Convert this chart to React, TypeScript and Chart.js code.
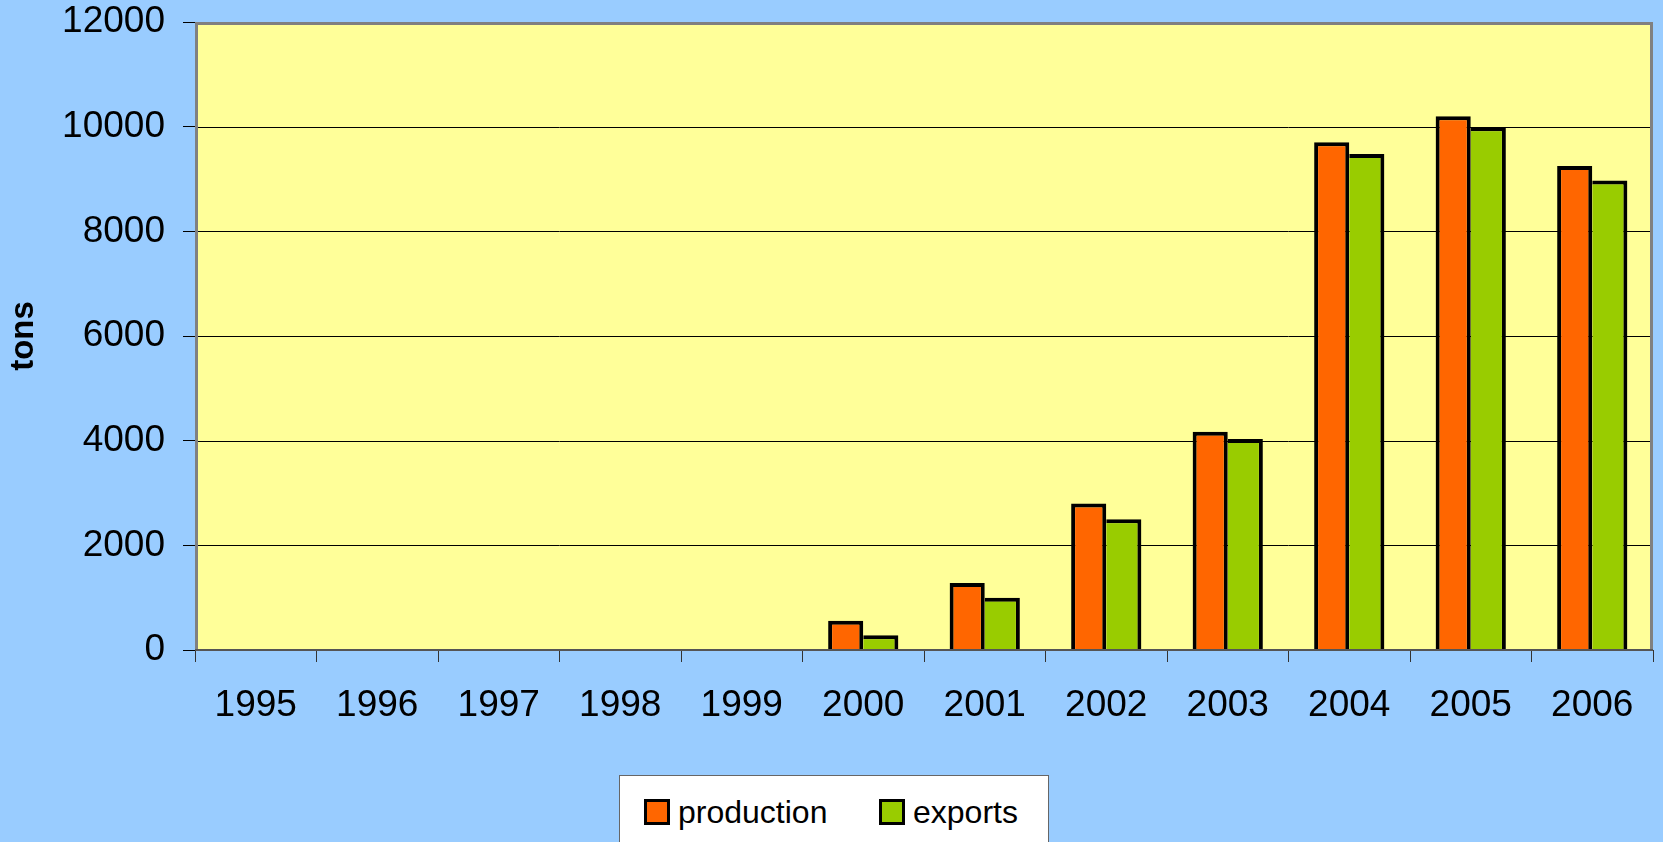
import React, { useEffect, useRef } from "react";
import { Chart, registerables } from "chart.js";

Chart.register(...registerables);

const years = ["1995", "1996", "1997", "1998", "1999", "2000", "2001", "2002", "2003", "2004", "2005", "2006"];
const production = [0, 0, 0, 0, 0, 560, 1280, 2800, 4170, 9700, 10200, 9250];
const exportsData = [0, 0, 0, 0, 0, 280, 1000, 2500, 4030, 9480, 9990, 8970];
const yAxisTitle = "tons";
const seriesNames = ["production", "exports"];
const seriesColors = ["#FF6600", "#99CC00"];

const FONT = "'Liberation Sans', Arial, sans-serif";

const plotFrame = {
  id: "plotFrame",
  beforeDatasetsDraw(chart: any) {
    const { ctx, chartArea } = chart;
    ctx.save();
    ctx.fillStyle = "#FFFF99";
    ctx.fillRect(chartArea.left, chartArea.top, chartArea.right - chartArea.left, chartArea.bottom - chartArea.top);
    const y = chart.scales.y;
    ctx.strokeStyle = "#000000";
    ctx.lineWidth = 1;
    y.ticks.forEach((t: any) => {
      const py = Math.round(y.getPixelForValue(t.value)) + 0.5;
      ctx.beginPath();
      ctx.moveTo(chartArea.left, py);
      ctx.lineTo(chartArea.right, py);
      ctx.stroke();
    });
    ctx.restore();
  },
  afterDatasetsDraw(chart: any) {
    const { ctx, chartArea } = chart;
    ctx.save();
    ctx.strokeStyle = "#808080";
    ctx.lineWidth = 3;
    ctx.beginPath();
    ctx.moveTo(chartArea.left + 1.5, chartArea.bottom);
    ctx.lineTo(chartArea.left + 1.5, chartArea.top + 1.5);
    ctx.lineTo(chartArea.right - 1.5, chartArea.top + 1.5);
    ctx.lineTo(chartArea.right - 1.5, chartArea.bottom);
    ctx.stroke();
    ctx.strokeStyle = "#555555";
    ctx.lineWidth = 2;
    ctx.beginPath();
    ctx.moveTo(chartArea.left, chartArea.bottom);
    ctx.lineTo(chartArea.right, chartArea.bottom);
    ctx.stroke();
    ctx.restore();
  },
};

export default function App() {
  const canvasRef = useRef<HTMLCanvasElement>(null);

  useEffect(() => {
    if (!canvasRef.current) return;
    const chart = new Chart(canvasRef.current, {
      type: "bar",
      data: {
        labels: years,
        datasets: [
          {
            label: seriesNames[0],
            data: production,
            backgroundColor: seriesColors[0],
            borderColor: "#000000",
            borderWidth: { top: 4, left: 4, right: 4, bottom: 0 } as any,
            borderSkipped: false,
          },
          {
            label: seriesNames[1],
            data: exportsData,
            backgroundColor: seriesColors[1],
            borderColor: "#000000",
            borderWidth: { top: 4, left: 0, right: 4, bottom: 0 } as any,
            borderSkipped: false,
          },
        ],
      },
      options: {
        animation: false,
        responsive: false,
        devicePixelRatio: 1,
        layout: { padding: { left: 0, top: 22, right: 10, bottom: 0 } },
        datasets: { bar: { barPercentage: 1, categoryPercentage: 0.578 } },
        plugins: {
          legend: { display: false },
          tooltip: { enabled: false },
        },
        scales: {
          x: {
            grid: {
              offset: true,
              drawOnChartArea: false,
              drawTicks: true,
              tickLength: 12,
              color: "#333333",
              lineWidth: 1,
            },
            border: { display: false },
            ticks: {
              color: "#000000",
              font: { family: FONT, size: 37 },
              padding: 22,
              maxRotation: 0,
              autoSkip: false,
            },
            afterFit(scale: any) {
              scale.height = 192;
              scale.paddingLeft = 0;
              scale.paddingRight = 0;
            },
          },
          y: {
            min: 0,
            max: 12000,
            grid: {
              drawOnChartArea: false,
              drawTicks: true,
              tickLength: 12,
              color: "#000000",
              lineWidth: 1,
            },
            border: { display: false },
            ticks: {
              stepSize: 2000,
              color: "#000000",
              font: { family: FONT, size: 37 },
              padding: 18,
              callback: (v: any) => String(v),
            },
            title: {
              display: true,
              text: yAxisTitle,
              color: "#000000",
              font: { family: FONT, size: 33, weight: "bold" },
              padding: { top: 4, bottom: 0 },
            },
            afterFit(scale: any) {
              scale.width = 195;
              scale.paddingTop = 0;
              scale.paddingBottom = 0;
            },
          },
        },
      },
      plugins: [plotFrame],
    });
    return () => chart.destroy();
  }, []);

  const legendItem = (name: string, color: string, left: number) => (
    <div key={name} style={{ position: "absolute", left, top: 22, display: "flex", alignItems: "center" }}>
      <div
        style={{
          width: 20,
          height: 20,
          background: color,
          border: "3px solid #000",
          marginRight: 8,
        }}
      />
      <span style={{ fontFamily: FONT, fontSize: 32, color: "#000", lineHeight: "28px" }}>{name}</span>
    </div>
  );

  return (
    <div
      style={{
        position: "absolute",
        left: 0,
        top: 0,
        width: 1663,
        height: 842,
        background: "#99CCFF",
        overflow: "hidden",
      }}
    >
      <canvas ref={canvasRef} width={1663} height={842} style={{ display: "block", width: 1663, height: 842 }} />
      <div
        style={{
          position: "absolute",
          left: 619,
          top: 775,
          width: 428,
          height: 90,
          background: "#FFFFFF",
          border: "1px solid #666666",
        }}
      >
        {legendItem(seriesNames[0], seriesColors[0], 24)}
        {legendItem(seriesNames[1], seriesColors[1], 259)}
      </div>
    </div>
  );
}
